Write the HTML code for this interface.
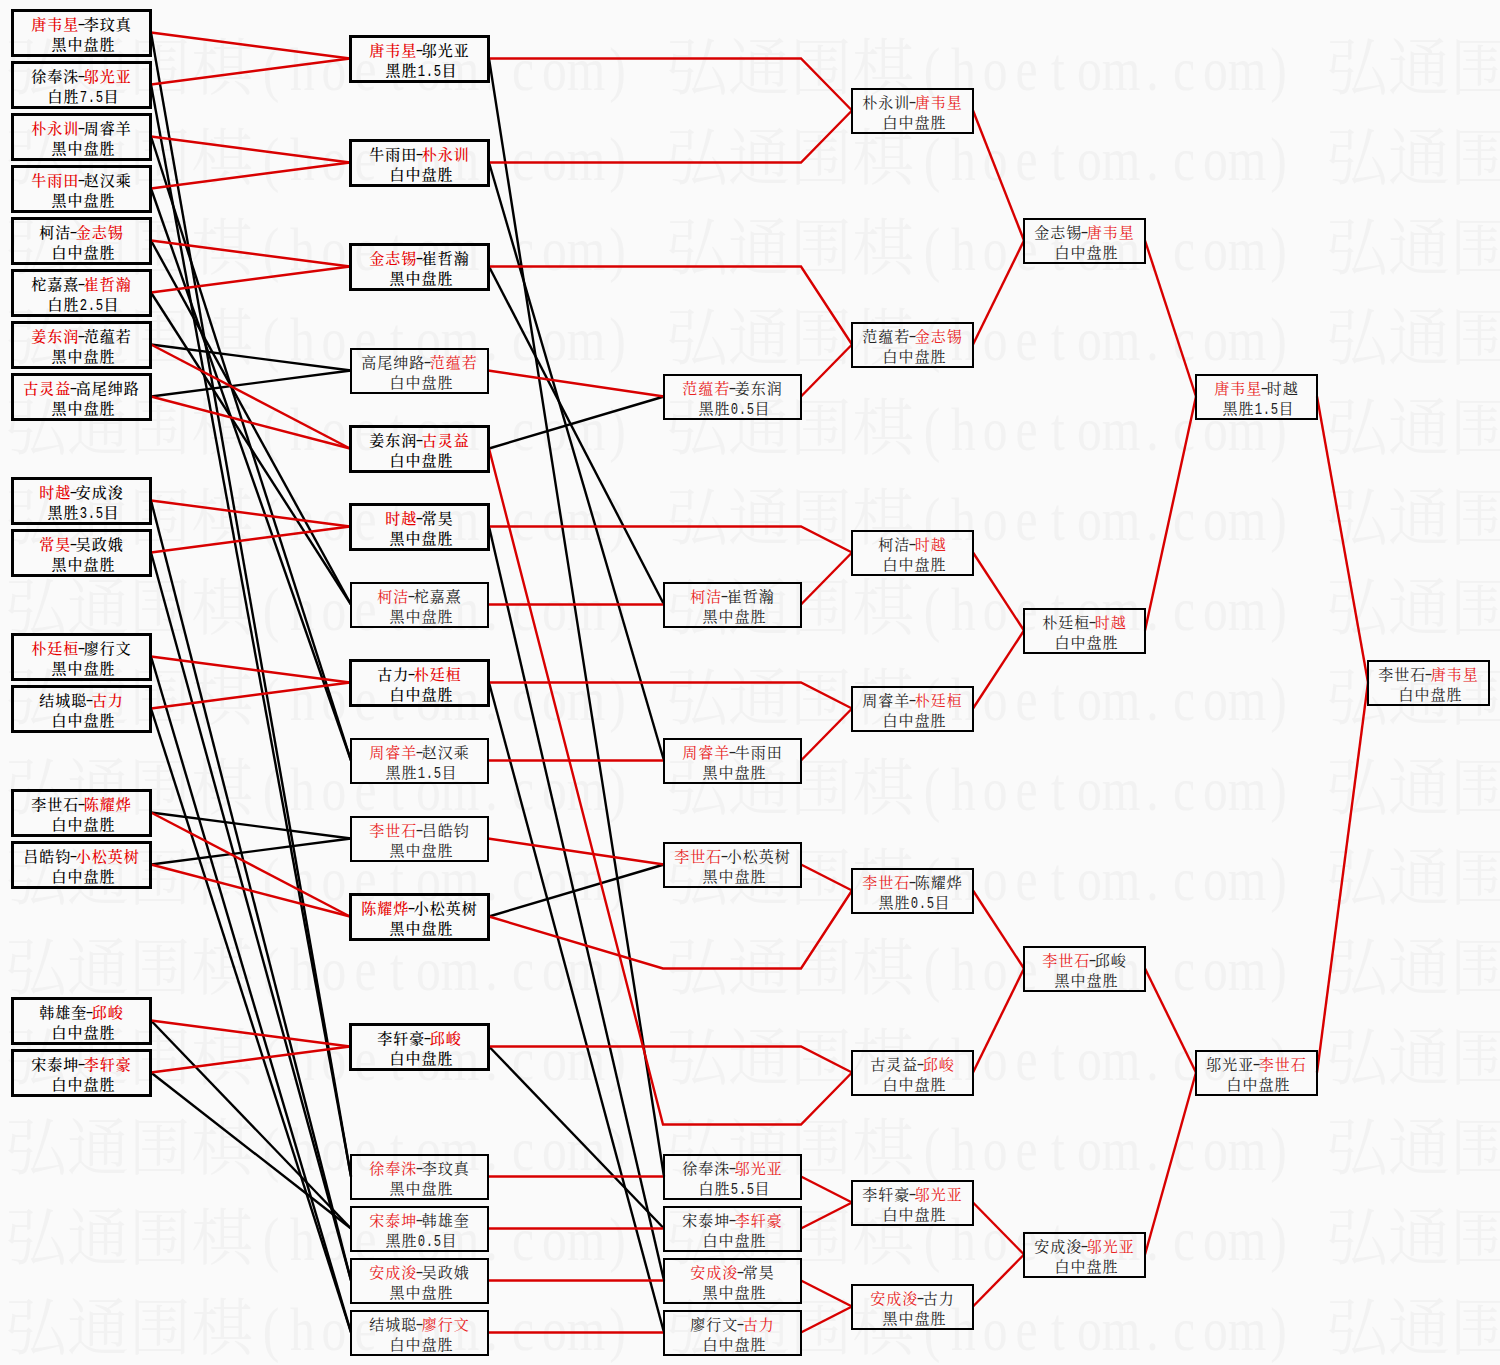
<!DOCTYPE html>
<html><head><meta charset="utf-8"><title>bracket</title>
<style>
html,body{margin:0;padding:0;background:#fafafa;width:1500px;height:1365px;overflow:hidden}
svg{display:block}
.wmc{font-family:'Liberation Serif','Noto Serif CJK SC',serif;font-size:62px;font-weight:300;fill:#f2f2f2}
.wml{font-family:'Liberation Serif',serif;font-size:62px;fill:#f2f2f2;text-anchor:middle}
.tk{font-family:'Liberation Serif','Noto Serif CJK SC',serif;font-size:15px;font-weight:500;fill:#000}
.tn{font-family:'Liberation Serif','Noto Serif CJK SC',serif;font-size:15px;font-weight:400;fill:#222}
.hy{font-family:'Liberation Sans',sans-serif;font-size:16px;font-weight:400;text-anchor:middle}
.dg{font-family:'Liberation Mono',monospace;font-size:17px;text-anchor:middle}
.tkd{fill:#000} .tnd{fill:#222}
.ln path{fill:none;stroke-width:2.4}
.bx rect{fill:none;stroke:#000}
</style></head>
<body><svg width="1500" height="1365" viewBox="0 0 1500 1365">
<g><text x="5 67 129 191" y="90" class="wmc">弘通围棋</text><text transform="scale(0.8,1)" x="338.8 378.1 417.5 456.9 496.2 535.6 575.0 614.4 653.8 693.1 732.5 771.9" y="90" class="wml">(hoetom.com)</text><text x="666 728 790 852" y="90" class="wmc">弘通围棋</text><text transform="scale(0.8,1)" x="1165.0 1204.4 1243.8 1283.1 1322.5 1361.9 1401.2 1440.6 1480.0 1519.4 1558.8 1598.1" y="90" class="wml">(hoetom.com)</text><text x="1326 1388 1450 1512" y="90" class="wmc">弘通围棋</text><text transform="scale(0.8,1)" x="1990.0 2029.4 2068.8 2108.1 2147.5 2186.9 2226.2 2265.6 2305.0 2344.4 2383.8 2423.1" y="90" class="wml">(hoetom.com)</text><text x="5 67 129 191" y="180" class="wmc">弘通围棋</text><text transform="scale(0.8,1)" x="338.8 378.1 417.5 456.9 496.2 535.6 575.0 614.4 653.8 693.1 732.5 771.9" y="180" class="wml">(hoetom.com)</text><text x="666 728 790 852" y="180" class="wmc">弘通围棋</text><text transform="scale(0.8,1)" x="1165.0 1204.4 1243.8 1283.1 1322.5 1361.9 1401.2 1440.6 1480.0 1519.4 1558.8 1598.1" y="180" class="wml">(hoetom.com)</text><text x="1326 1388 1450 1512" y="180" class="wmc">弘通围棋</text><text transform="scale(0.8,1)" x="1990.0 2029.4 2068.8 2108.1 2147.5 2186.9 2226.2 2265.6 2305.0 2344.4 2383.8 2423.1" y="180" class="wml">(hoetom.com)</text><text x="5 67 129 191" y="270" class="wmc">弘通围棋</text><text transform="scale(0.8,1)" x="338.8 378.1 417.5 456.9 496.2 535.6 575.0 614.4 653.8 693.1 732.5 771.9" y="270" class="wml">(hoetom.com)</text><text x="666 728 790 852" y="270" class="wmc">弘通围棋</text><text transform="scale(0.8,1)" x="1165.0 1204.4 1243.8 1283.1 1322.5 1361.9 1401.2 1440.6 1480.0 1519.4 1558.8 1598.1" y="270" class="wml">(hoetom.com)</text><text x="1326 1388 1450 1512" y="270" class="wmc">弘通围棋</text><text transform="scale(0.8,1)" x="1990.0 2029.4 2068.8 2108.1 2147.5 2186.9 2226.2 2265.6 2305.0 2344.4 2383.8 2423.1" y="270" class="wml">(hoetom.com)</text><text x="5 67 129 191" y="360" class="wmc">弘通围棋</text><text transform="scale(0.8,1)" x="338.8 378.1 417.5 456.9 496.2 535.6 575.0 614.4 653.8 693.1 732.5 771.9" y="360" class="wml">(hoetom.com)</text><text x="666 728 790 852" y="360" class="wmc">弘通围棋</text><text transform="scale(0.8,1)" x="1165.0 1204.4 1243.8 1283.1 1322.5 1361.9 1401.2 1440.6 1480.0 1519.4 1558.8 1598.1" y="360" class="wml">(hoetom.com)</text><text x="1326 1388 1450 1512" y="360" class="wmc">弘通围棋</text><text transform="scale(0.8,1)" x="1990.0 2029.4 2068.8 2108.1 2147.5 2186.9 2226.2 2265.6 2305.0 2344.4 2383.8 2423.1" y="360" class="wml">(hoetom.com)</text><text x="5 67 129 191" y="450" class="wmc">弘通围棋</text><text transform="scale(0.8,1)" x="338.8 378.1 417.5 456.9 496.2 535.6 575.0 614.4 653.8 693.1 732.5 771.9" y="450" class="wml">(hoetom.com)</text><text x="666 728 790 852" y="450" class="wmc">弘通围棋</text><text transform="scale(0.8,1)" x="1165.0 1204.4 1243.8 1283.1 1322.5 1361.9 1401.2 1440.6 1480.0 1519.4 1558.8 1598.1" y="450" class="wml">(hoetom.com)</text><text x="1326 1388 1450 1512" y="450" class="wmc">弘通围棋</text><text transform="scale(0.8,1)" x="1990.0 2029.4 2068.8 2108.1 2147.5 2186.9 2226.2 2265.6 2305.0 2344.4 2383.8 2423.1" y="450" class="wml">(hoetom.com)</text><text x="5 67 129 191" y="540" class="wmc">弘通围棋</text><text transform="scale(0.8,1)" x="338.8 378.1 417.5 456.9 496.2 535.6 575.0 614.4 653.8 693.1 732.5 771.9" y="540" class="wml">(hoetom.com)</text><text x="666 728 790 852" y="540" class="wmc">弘通围棋</text><text transform="scale(0.8,1)" x="1165.0 1204.4 1243.8 1283.1 1322.5 1361.9 1401.2 1440.6 1480.0 1519.4 1558.8 1598.1" y="540" class="wml">(hoetom.com)</text><text x="1326 1388 1450 1512" y="540" class="wmc">弘通围棋</text><text transform="scale(0.8,1)" x="1990.0 2029.4 2068.8 2108.1 2147.5 2186.9 2226.2 2265.6 2305.0 2344.4 2383.8 2423.1" y="540" class="wml">(hoetom.com)</text><text x="5 67 129 191" y="630" class="wmc">弘通围棋</text><text transform="scale(0.8,1)" x="338.8 378.1 417.5 456.9 496.2 535.6 575.0 614.4 653.8 693.1 732.5 771.9" y="630" class="wml">(hoetom.com)</text><text x="666 728 790 852" y="630" class="wmc">弘通围棋</text><text transform="scale(0.8,1)" x="1165.0 1204.4 1243.8 1283.1 1322.5 1361.9 1401.2 1440.6 1480.0 1519.4 1558.8 1598.1" y="630" class="wml">(hoetom.com)</text><text x="1326 1388 1450 1512" y="630" class="wmc">弘通围棋</text><text transform="scale(0.8,1)" x="1990.0 2029.4 2068.8 2108.1 2147.5 2186.9 2226.2 2265.6 2305.0 2344.4 2383.8 2423.1" y="630" class="wml">(hoetom.com)</text><text x="5 67 129 191" y="720" class="wmc">弘通围棋</text><text transform="scale(0.8,1)" x="338.8 378.1 417.5 456.9 496.2 535.6 575.0 614.4 653.8 693.1 732.5 771.9" y="720" class="wml">(hoetom.com)</text><text x="666 728 790 852" y="720" class="wmc">弘通围棋</text><text transform="scale(0.8,1)" x="1165.0 1204.4 1243.8 1283.1 1322.5 1361.9 1401.2 1440.6 1480.0 1519.4 1558.8 1598.1" y="720" class="wml">(hoetom.com)</text><text x="1326 1388 1450 1512" y="720" class="wmc">弘通围棋</text><text transform="scale(0.8,1)" x="1990.0 2029.4 2068.8 2108.1 2147.5 2186.9 2226.2 2265.6 2305.0 2344.4 2383.8 2423.1" y="720" class="wml">(hoetom.com)</text><text x="5 67 129 191" y="810" class="wmc">弘通围棋</text><text transform="scale(0.8,1)" x="338.8 378.1 417.5 456.9 496.2 535.6 575.0 614.4 653.8 693.1 732.5 771.9" y="810" class="wml">(hoetom.com)</text><text x="666 728 790 852" y="810" class="wmc">弘通围棋</text><text transform="scale(0.8,1)" x="1165.0 1204.4 1243.8 1283.1 1322.5 1361.9 1401.2 1440.6 1480.0 1519.4 1558.8 1598.1" y="810" class="wml">(hoetom.com)</text><text x="1326 1388 1450 1512" y="810" class="wmc">弘通围棋</text><text transform="scale(0.8,1)" x="1990.0 2029.4 2068.8 2108.1 2147.5 2186.9 2226.2 2265.6 2305.0 2344.4 2383.8 2423.1" y="810" class="wml">(hoetom.com)</text><text x="5 67 129 191" y="900" class="wmc">弘通围棋</text><text transform="scale(0.8,1)" x="338.8 378.1 417.5 456.9 496.2 535.6 575.0 614.4 653.8 693.1 732.5 771.9" y="900" class="wml">(hoetom.com)</text><text x="666 728 790 852" y="900" class="wmc">弘通围棋</text><text transform="scale(0.8,1)" x="1165.0 1204.4 1243.8 1283.1 1322.5 1361.9 1401.2 1440.6 1480.0 1519.4 1558.8 1598.1" y="900" class="wml">(hoetom.com)</text><text x="1326 1388 1450 1512" y="900" class="wmc">弘通围棋</text><text transform="scale(0.8,1)" x="1990.0 2029.4 2068.8 2108.1 2147.5 2186.9 2226.2 2265.6 2305.0 2344.4 2383.8 2423.1" y="900" class="wml">(hoetom.com)</text><text x="5 67 129 191" y="990" class="wmc">弘通围棋</text><text transform="scale(0.8,1)" x="338.8 378.1 417.5 456.9 496.2 535.6 575.0 614.4 653.8 693.1 732.5 771.9" y="990" class="wml">(hoetom.com)</text><text x="666 728 790 852" y="990" class="wmc">弘通围棋</text><text transform="scale(0.8,1)" x="1165.0 1204.4 1243.8 1283.1 1322.5 1361.9 1401.2 1440.6 1480.0 1519.4 1558.8 1598.1" y="990" class="wml">(hoetom.com)</text><text x="1326 1388 1450 1512" y="990" class="wmc">弘通围棋</text><text transform="scale(0.8,1)" x="1990.0 2029.4 2068.8 2108.1 2147.5 2186.9 2226.2 2265.6 2305.0 2344.4 2383.8 2423.1" y="990" class="wml">(hoetom.com)</text><text x="5 67 129 191" y="1080" class="wmc">弘通围棋</text><text transform="scale(0.8,1)" x="338.8 378.1 417.5 456.9 496.2 535.6 575.0 614.4 653.8 693.1 732.5 771.9" y="1080" class="wml">(hoetom.com)</text><text x="666 728 790 852" y="1080" class="wmc">弘通围棋</text><text transform="scale(0.8,1)" x="1165.0 1204.4 1243.8 1283.1 1322.5 1361.9 1401.2 1440.6 1480.0 1519.4 1558.8 1598.1" y="1080" class="wml">(hoetom.com)</text><text x="1326 1388 1450 1512" y="1080" class="wmc">弘通围棋</text><text transform="scale(0.8,1)" x="1990.0 2029.4 2068.8 2108.1 2147.5 2186.9 2226.2 2265.6 2305.0 2344.4 2383.8 2423.1" y="1080" class="wml">(hoetom.com)</text><text x="5 67 129 191" y="1170" class="wmc">弘通围棋</text><text transform="scale(0.8,1)" x="338.8 378.1 417.5 456.9 496.2 535.6 575.0 614.4 653.8 693.1 732.5 771.9" y="1170" class="wml">(hoetom.com)</text><text x="666 728 790 852" y="1170" class="wmc">弘通围棋</text><text transform="scale(0.8,1)" x="1165.0 1204.4 1243.8 1283.1 1322.5 1361.9 1401.2 1440.6 1480.0 1519.4 1558.8 1598.1" y="1170" class="wml">(hoetom.com)</text><text x="1326 1388 1450 1512" y="1170" class="wmc">弘通围棋</text><text transform="scale(0.8,1)" x="1990.0 2029.4 2068.8 2108.1 2147.5 2186.9 2226.2 2265.6 2305.0 2344.4 2383.8 2423.1" y="1170" class="wml">(hoetom.com)</text><text x="5 67 129 191" y="1260" class="wmc">弘通围棋</text><text transform="scale(0.8,1)" x="338.8 378.1 417.5 456.9 496.2 535.6 575.0 614.4 653.8 693.1 732.5 771.9" y="1260" class="wml">(hoetom.com)</text><text x="666 728 790 852" y="1260" class="wmc">弘通围棋</text><text transform="scale(0.8,1)" x="1165.0 1204.4 1243.8 1283.1 1322.5 1361.9 1401.2 1440.6 1480.0 1519.4 1558.8 1598.1" y="1260" class="wml">(hoetom.com)</text><text x="1326 1388 1450 1512" y="1260" class="wmc">弘通围棋</text><text transform="scale(0.8,1)" x="1990.0 2029.4 2068.8 2108.1 2147.5 2186.9 2226.2 2265.6 2305.0 2344.4 2383.8 2423.1" y="1260" class="wml">(hoetom.com)</text><text x="5 67 129 191" y="1350" class="wmc">弘通围棋</text><text transform="scale(0.8,1)" x="338.8 378.1 417.5 456.9 496.2 535.6 575.0 614.4 653.8 693.1 732.5 771.9" y="1350" class="wml">(hoetom.com)</text><text x="666 728 790 852" y="1350" class="wmc">弘通围棋</text><text transform="scale(0.8,1)" x="1165.0 1204.4 1243.8 1283.1 1322.5 1361.9 1401.2 1440.6 1480.0 1519.4 1558.8 1598.1" y="1350" class="wml">(hoetom.com)</text><text x="1326 1388 1450 1512" y="1350" class="wmc">弘通围棋</text><text transform="scale(0.8,1)" x="1990.0 2029.4 2068.8 2108.1 2147.5 2186.9 2226.2 2265.6 2305.0 2344.4 2383.8 2423.1" y="1350" class="wml">(hoetom.com)</text></g>
<g class="ln"><path d="M151,32.5 L351,1176.5" stroke="#000000"/><path d="M151,84.5 L351,1176.5" stroke="#000000"/><path d="M151,136.5 L351,760.5" stroke="#000000"/><path d="M151,188.5 L351,760.5" stroke="#000000"/><path d="M151,240.5 L351,604.5" stroke="#000000"/><path d="M151,292.5 L351,604.5" stroke="#000000"/><path d="M151,344.5 L351,370.5" stroke="#000000"/><path d="M151,396.5 L351,370.5" stroke="#000000"/><path d="M151,500.5 L351,1280.5" stroke="#000000"/><path d="M151,552.5 L351,1280.5" stroke="#000000"/><path d="M151,656.5 L351,1332.5" stroke="#000000"/><path d="M151,708.5 L351,1332.5" stroke="#000000"/><path d="M151,812.5 L351,838.5" stroke="#000000"/><path d="M151,864.5 L351,838.5" stroke="#000000"/><path d="M151,1020.5 L351,1228.5" stroke="#000000"/><path d="M151,1072.5 L351,1228.5" stroke="#000000"/><path d="M151,32.5 L350,58.5" stroke="#d80000"/><path d="M151,84.5 L350,58.5" stroke="#d80000"/><path d="M151,136.5 L350,162.5" stroke="#d80000"/><path d="M151,188.5 L350,162.5" stroke="#d80000"/><path d="M151,240.5 L350,266.5" stroke="#d80000"/><path d="M151,292.5 L350,266.5" stroke="#d80000"/><path d="M151,344.5 L350,448.5" stroke="#d80000"/><path d="M151,396.5 L350,448.5" stroke="#d80000"/><path d="M151,500.5 L350,526.5" stroke="#d80000"/><path d="M151,552.5 L350,526.5" stroke="#d80000"/><path d="M151,656.5 L350,682.5" stroke="#d80000"/><path d="M151,708.5 L350,682.5" stroke="#d80000"/><path d="M151,812.5 L350,916.5" stroke="#d80000"/><path d="M151,864.5 L350,916.5" stroke="#d80000"/><path d="M151,1020.5 L350,1046.5" stroke="#d80000"/><path d="M151,1072.5 L350,1046.5" stroke="#d80000"/><path d="M489,58.5 L664,1176.5" stroke="#000000"/><path d="M489,162.5 L664,760.5" stroke="#000000"/><path d="M489,266.5 L664,604.5" stroke="#000000"/><path d="M489,448.5 L664,396.5" stroke="#000000"/><path d="M489,526.5 L664,1280.5" stroke="#000000"/><path d="M489,682.5 L664,1332.5" stroke="#000000"/><path d="M489,916.5 L664,864.5" stroke="#000000"/><path d="M489,1046.5 L664,1228.5" stroke="#000000"/><path d="M488,370.5 L664,396.5" stroke="#d80000"/><path d="M488,604.5 L664,604.5" stroke="#d80000"/><path d="M488,760.5 L664,760.5" stroke="#d80000"/><path d="M488,838.5 L664,864.5" stroke="#d80000"/><path d="M488,1176.5 L664,1176.5" stroke="#d80000"/><path d="M488,1228.5 L664,1228.5" stroke="#d80000"/><path d="M488,1280.5 L664,1280.5" stroke="#d80000"/><path d="M488,1332.5 L664,1332.5" stroke="#d80000"/><path d="M489,58.5 L663,58.5 L801,58.5 L852,110.5" stroke="#d80000"/><path d="M489,162.5 L663,162.5 L801,162.5 L852,110.5" stroke="#d80000"/><path d="M489,266.5 L663,266.5 L801,266.5 L852,344.5" stroke="#d80000"/><path d="M489,526.5 L663,526.5 L801,526.5 L852,552.5" stroke="#d80000"/><path d="M489,682.5 L663,682.5 L801,682.5 L852,708.5" stroke="#d80000"/><path d="M489,916.5 L663,968.5 L801,968.5 L852,890.5" stroke="#d80000"/><path d="M489,1046.5 L663,1046.5 L801,1046.5 L852,1072.5" stroke="#d80000"/><path d="M489,448.5 L663,1124.5 L801,1124.5 L852,1072.5" stroke="#d80000"/><path d="M801,396.5 L852,344.5" stroke="#d80000"/><path d="M801,604.5 L852,552.5" stroke="#d80000"/><path d="M801,760.5 L852,708.5" stroke="#d80000"/><path d="M801,864.5 L852,890.5" stroke="#d80000"/><path d="M801,1176.5 L852,1202.5" stroke="#d80000"/><path d="M801,1228.5 L852,1202.5" stroke="#d80000"/><path d="M801,1280.5 L852,1306.5" stroke="#d80000"/><path d="M801,1332.5 L852,1306.5" stroke="#d80000"/><path d="M973,110.5 L1024,240.5" stroke="#d80000"/><path d="M973,344.5 L1024,240.5" stroke="#d80000"/><path d="M973,552.5 L1024,630.5" stroke="#d80000"/><path d="M973,708.5 L1024,630.5" stroke="#d80000"/><path d="M973,890.5 L1024,968.5" stroke="#d80000"/><path d="M973,1072.5 L1024,968.5" stroke="#d80000"/><path d="M973,1202.5 L1024,1254.5" stroke="#d80000"/><path d="M973,1306.5 L1024,1254.5" stroke="#d80000"/><path d="M1145,240.5 L1196,396.5" stroke="#d80000"/><path d="M1145,630.5 L1196,396.5" stroke="#d80000"/><path d="M1145,968.5 L1196,1072.5" stroke="#d80000"/><path d="M1145,1254.5 L1196,1072.5" stroke="#d80000"/><path d="M1317,396.5 L1368,682.5" stroke="#d80000"/><path d="M1317,1072.5 L1368,682.5" stroke="#d80000"/></g>
<g class="bx"><rect x="12.5" y="10.5" width="138" height="45" stroke-width="3"/><rect x="12.5" y="62.5" width="138" height="45" stroke-width="3"/><rect x="12.5" y="114.5" width="138" height="45" stroke-width="3"/><rect x="12.5" y="166.5" width="138" height="45" stroke-width="3"/><rect x="12.5" y="218.5" width="138" height="45" stroke-width="3"/><rect x="12.5" y="270.5" width="138" height="45" stroke-width="3"/><rect x="12.5" y="322.5" width="138" height="45" stroke-width="3"/><rect x="12.5" y="374.5" width="138" height="45" stroke-width="3"/><rect x="12.5" y="478.5" width="138" height="45" stroke-width="3"/><rect x="12.5" y="530.5" width="138" height="45" stroke-width="3"/><rect x="12.5" y="634.5" width="138" height="45" stroke-width="3"/><rect x="12.5" y="686.5" width="138" height="45" stroke-width="3"/><rect x="12.5" y="790.5" width="138" height="45" stroke-width="3"/><rect x="12.5" y="842.5" width="138" height="45" stroke-width="3"/><rect x="12.5" y="998.5" width="138" height="45" stroke-width="3"/><rect x="12.5" y="1050.5" width="138" height="45" stroke-width="3"/><rect x="350.5" y="36.5" width="138" height="45" stroke-width="3"/><rect x="350.5" y="140.5" width="138" height="45" stroke-width="3"/><rect x="350.5" y="244.5" width="138" height="45" stroke-width="3"/><rect x="351.0" y="349.0" width="137" height="44" stroke-width="2"/><rect x="350.5" y="426.5" width="138" height="45" stroke-width="3"/><rect x="350.5" y="504.5" width="138" height="45" stroke-width="3"/><rect x="351.0" y="583.0" width="137" height="44" stroke-width="2"/><rect x="350.5" y="660.5" width="138" height="45" stroke-width="3"/><rect x="351.0" y="739.0" width="137" height="44" stroke-width="2"/><rect x="351.0" y="817.0" width="137" height="44" stroke-width="2"/><rect x="350.5" y="894.5" width="138" height="45" stroke-width="3"/><rect x="350.5" y="1024.5" width="138" height="45" stroke-width="3"/><rect x="351.0" y="1155.0" width="137" height="44" stroke-width="2"/><rect x="351.0" y="1207.0" width="137" height="44" stroke-width="2"/><rect x="351.0" y="1259.0" width="137" height="44" stroke-width="2"/><rect x="351.0" y="1311.0" width="137" height="44" stroke-width="2"/><rect x="664.0" y="375.0" width="137" height="44" stroke-width="2"/><rect x="664.0" y="583.0" width="137" height="44" stroke-width="2"/><rect x="664.0" y="739.0" width="137" height="44" stroke-width="2"/><rect x="664.0" y="843.0" width="137" height="44" stroke-width="2"/><rect x="664.0" y="1155.0" width="137" height="44" stroke-width="2"/><rect x="664.0" y="1207.0" width="137" height="44" stroke-width="2"/><rect x="664.0" y="1259.0" width="137" height="44" stroke-width="2"/><rect x="664.0" y="1311.0" width="137" height="44" stroke-width="2"/><rect x="852.0" y="89.0" width="121" height="44" stroke-width="2"/><rect x="852.0" y="323.0" width="121" height="44" stroke-width="2"/><rect x="852.0" y="531.0" width="121" height="44" stroke-width="2"/><rect x="852.0" y="687.0" width="121" height="44" stroke-width="2"/><rect x="852.0" y="869.0" width="121" height="44" stroke-width="2"/><rect x="852.0" y="1051.0" width="121" height="44" stroke-width="2"/><rect x="852.0" y="1181.0" width="121" height="44" stroke-width="2"/><rect x="852.0" y="1285.0" width="121" height="44" stroke-width="2"/><rect x="1024.0" y="219.0" width="121" height="44" stroke-width="2"/><rect x="1024.0" y="609.0" width="121" height="44" stroke-width="2"/><rect x="1024.0" y="947.0" width="121" height="44" stroke-width="2"/><rect x="1024.0" y="1233.0" width="121" height="44" stroke-width="2"/><rect x="1196.0" y="375.0" width="121" height="44" stroke-width="2"/><rect x="1196.0" y="1051.0" width="121" height="44" stroke-width="2"/><rect x="1368.0" y="661.0" width="121" height="44" stroke-width="2"/></g>
<g><text y="30.3" class="tk"><tspan x="31.2 47.2 63.2" fill="#e60000">唐韦星</tspan><tspan x="83.8 99.8 115.8">李玟真</tspan></text><text transform="scale(1.5,1)" x="54.33" y="28.8" class="hy tkd">-</text><text y="50.3" class="tk"><tspan x="51.5 67.5 83.5 99.5">黑中盘胜</tspan></text><text y="82.3" class="tk"><tspan x="31.2 47.2 63.2">徐奉洙</tspan><tspan x="83.8 99.8 115.8" fill="#e60000">邬光亚</tspan></text><text transform="scale(1.5,1)" x="54.33" y="80.8" class="hy tkd">-</text><text y="102.3" class="tk"><tspan x="47.5 63.5">白胜</tspan><tspan x="103.5">目</tspan></text><text transform="scale(0.72,1)" x="115.97 127.08 138.19" y="102.3" class="dg tkd">7.5</text><text y="134.3" class="tk"><tspan x="31.2 47.2 63.2" fill="#e60000">朴永训</tspan><tspan x="83.8 99.8 115.8">周睿羊</tspan></text><text transform="scale(1.5,1)" x="54.33" y="132.8" class="hy tkd">-</text><text y="154.3" class="tk"><tspan x="51.5 67.5 83.5 99.5">黑中盘胜</tspan></text><text y="186.3" class="tk"><tspan x="31.2 47.2 63.2" fill="#e60000">牛雨田</tspan><tspan x="83.8 99.8 115.8">赵汉乘</tspan></text><text transform="scale(1.5,1)" x="54.33" y="184.8" class="hy tkd">-</text><text y="206.3" class="tk"><tspan x="51.5 67.5 83.5 99.5">黑中盘胜</tspan></text><text y="238.3" class="tk"><tspan x="39.2 55.2">柯洁</tspan><tspan x="75.8 91.8 107.8" fill="#e60000">金志锡</tspan></text><text transform="scale(1.5,1)" x="49.00" y="236.8" class="hy tkd">-</text><text y="258.3" class="tk"><tspan x="51.5 67.5 83.5 99.5">白中盘胜</tspan></text><text y="290.3" class="tk"><tspan x="31.2 47.2 63.2">柁嘉熹</tspan><tspan x="83.8 99.8 115.8" fill="#e60000">崔哲瀚</tspan></text><text transform="scale(1.5,1)" x="54.33" y="288.8" class="hy tkd">-</text><text y="310.3" class="tk"><tspan x="47.5 63.5">白胜</tspan><tspan x="103.5">目</tspan></text><text transform="scale(0.72,1)" x="115.97 127.08 138.19" y="310.3" class="dg tkd">2.5</text><text y="342.3" class="tk"><tspan x="31.2 47.2 63.2" fill="#e60000">姜东润</tspan><tspan x="83.8 99.8 115.8">范蕴若</tspan></text><text transform="scale(1.5,1)" x="54.33" y="340.8" class="hy tkd">-</text><text y="362.3" class="tk"><tspan x="51.5 67.5 83.5 99.5">黑中盘胜</tspan></text><text y="394.3" class="tk"><tspan x="23.2 39.2 55.2" fill="#e60000">古灵益</tspan><tspan x="75.8 91.8 107.8 123.8">高尾绅路</tspan></text><text transform="scale(1.5,1)" x="49.00" y="392.8" class="hy tkd">-</text><text y="414.3" class="tk"><tspan x="51.5 67.5 83.5 99.5">黑中盘胜</tspan></text><text y="498.3" class="tk"><tspan x="39.2 55.2" fill="#e60000">时越</tspan><tspan x="75.8 91.8 107.8">安成浚</tspan></text><text transform="scale(1.5,1)" x="49.00" y="496.8" class="hy tkd">-</text><text y="518.3" class="tk"><tspan x="47.5 63.5">黑胜</tspan><tspan x="103.5">目</tspan></text><text transform="scale(0.72,1)" x="115.97 127.08 138.19" y="518.3" class="dg tkd">3.5</text><text y="550.3" class="tk"><tspan x="39.2 55.2" fill="#e60000">常昊</tspan><tspan x="75.8 91.8 107.8">吴政娥</tspan></text><text transform="scale(1.5,1)" x="49.00" y="548.8" class="hy tkd">-</text><text y="570.3" class="tk"><tspan x="51.5 67.5 83.5 99.5">黑中盘胜</tspan></text><text y="654.3" class="tk"><tspan x="31.2 47.2 63.2" fill="#e60000">朴廷桓</tspan><tspan x="83.8 99.8 115.8">廖行文</tspan></text><text transform="scale(1.5,1)" x="54.33" y="652.8" class="hy tkd">-</text><text y="674.3" class="tk"><tspan x="51.5 67.5 83.5 99.5">黑中盘胜</tspan></text><text y="706.3" class="tk"><tspan x="39.2 55.2 71.2">结城聪</tspan><tspan x="91.8 107.8" fill="#e60000">古力</tspan></text><text transform="scale(1.5,1)" x="59.67" y="704.8" class="hy tkd">-</text><text y="726.3" class="tk"><tspan x="51.5 67.5 83.5 99.5">白中盘胜</tspan></text><text y="810.3" class="tk"><tspan x="31.2 47.2 63.2">李世石</tspan><tspan x="83.8 99.8 115.8" fill="#e60000">陈耀烨</tspan></text><text transform="scale(1.5,1)" x="54.33" y="808.8" class="hy tkd">-</text><text y="830.3" class="tk"><tspan x="51.5 67.5 83.5 99.5">白中盘胜</tspan></text><text y="862.3" class="tk"><tspan x="23.2 39.2 55.2">吕皓钧</tspan><tspan x="75.8 91.8 107.8 123.8" fill="#e60000">小松英树</tspan></text><text transform="scale(1.5,1)" x="49.00" y="860.8" class="hy tkd">-</text><text y="882.3" class="tk"><tspan x="51.5 67.5 83.5 99.5">白中盘胜</tspan></text><text y="1018.3" class="tk"><tspan x="39.2 55.2 71.2">韩雄奎</tspan><tspan x="91.8 107.8" fill="#e60000">邱峻</tspan></text><text transform="scale(1.5,1)" x="59.67" y="1016.8" class="hy tkd">-</text><text y="1038.3" class="tk"><tspan x="51.5 67.5 83.5 99.5">白中盘胜</tspan></text><text y="1070.3" class="tk"><tspan x="31.2 47.2 63.2">宋泰坤</tspan><tspan x="83.8 99.8 115.8" fill="#e60000">李轩豪</tspan></text><text transform="scale(1.5,1)" x="54.33" y="1068.8" class="hy tkd">-</text><text y="1090.3" class="tk"><tspan x="51.5 67.5 83.5 99.5">白中盘胜</tspan></text><text y="56.3" class="tk"><tspan x="369.2 385.2 401.2" fill="#e60000">唐韦星</tspan><tspan x="421.8 437.8 453.8">邬光亚</tspan></text><text transform="scale(1.5,1)" x="279.67" y="54.8" class="hy tkd">-</text><text y="76.3" class="tk"><tspan x="385.5 401.5">黑胜</tspan><tspan x="441.5">目</tspan></text><text transform="scale(0.72,1)" x="585.42 596.53 607.64" y="76.3" class="dg tkd">1.5</text><text y="160.3" class="tk"><tspan x="369.2 385.2 401.2">牛雨田</tspan><tspan x="421.8 437.8 453.8" fill="#e60000">朴永训</tspan></text><text transform="scale(1.5,1)" x="279.67" y="158.8" class="hy tkd">-</text><text y="180.3" class="tk"><tspan x="389.5 405.5 421.5 437.5">白中盘胜</tspan></text><text y="264.3" class="tk"><tspan x="369.2 385.2 401.2" fill="#e60000">金志锡</tspan><tspan x="421.8 437.8 453.8">崔哲瀚</tspan></text><text transform="scale(1.5,1)" x="279.67" y="262.8" class="hy tkd">-</text><text y="284.3" class="tk"><tspan x="389.5 405.5 421.5 437.5">黑中盘胜</tspan></text><text y="368.3" class="tn"><tspan x="361.2 377.2 393.2 409.2">高尾绅路</tspan><tspan x="429.8 445.8 461.8" fill="#e82222">范蕴若</tspan></text><text transform="scale(1.5,1)" x="285.00" y="366.8" class="hy tnd">-</text><text y="388.3" class="tn"><tspan x="389.5 405.5 421.5 437.5">白中盘胜</tspan></text><text y="446.3" class="tk"><tspan x="369.2 385.2 401.2">姜东润</tspan><tspan x="421.8 437.8 453.8" fill="#e60000">古灵益</tspan></text><text transform="scale(1.5,1)" x="279.67" y="444.8" class="hy tkd">-</text><text y="466.3" class="tk"><tspan x="389.5 405.5 421.5 437.5">白中盘胜</tspan></text><text y="524.3" class="tk"><tspan x="385.2 401.2" fill="#e60000">时越</tspan><tspan x="421.8 437.8">常昊</tspan></text><text transform="scale(1.5,1)" x="279.67" y="522.8" class="hy tkd">-</text><text y="544.3" class="tk"><tspan x="389.5 405.5 421.5 437.5">黑中盘胜</tspan></text><text y="602.3" class="tn"><tspan x="377.2 393.2" fill="#e82222">柯洁</tspan><tspan x="413.8 429.8 445.8">柁嘉熹</tspan></text><text transform="scale(1.5,1)" x="274.33" y="600.8" class="hy tnd">-</text><text y="622.3" class="tn"><tspan x="389.5 405.5 421.5 437.5">黑中盘胜</tspan></text><text y="680.3" class="tk"><tspan x="377.2 393.2">古力</tspan><tspan x="413.8 429.8 445.8" fill="#e60000">朴廷桓</tspan></text><text transform="scale(1.5,1)" x="274.33" y="678.8" class="hy tkd">-</text><text y="700.3" class="tk"><tspan x="389.5 405.5 421.5 437.5">白中盘胜</tspan></text><text y="758.3" class="tn"><tspan x="369.2 385.2 401.2" fill="#e82222">周睿羊</tspan><tspan x="421.8 437.8 453.8">赵汉乘</tspan></text><text transform="scale(1.5,1)" x="279.67" y="756.8" class="hy tnd">-</text><text y="778.3" class="tn"><tspan x="385.5 401.5">黑胜</tspan><tspan x="441.5">目</tspan></text><text transform="scale(0.72,1)" x="585.42 596.53 607.64" y="778.3" class="dg tnd">1.5</text><text y="836.3" class="tn"><tspan x="369.2 385.2 401.2" fill="#e82222">李世石</tspan><tspan x="421.8 437.8 453.8">吕皓钧</tspan></text><text transform="scale(1.5,1)" x="279.67" y="834.8" class="hy tnd">-</text><text y="856.3" class="tn"><tspan x="389.5 405.5 421.5 437.5">黑中盘胜</tspan></text><text y="914.3" class="tk"><tspan x="361.2 377.2 393.2" fill="#e60000">陈耀烨</tspan><tspan x="413.8 429.8 445.8 461.8">小松英树</tspan></text><text transform="scale(1.5,1)" x="274.33" y="912.8" class="hy tkd">-</text><text y="934.3" class="tk"><tspan x="389.5 405.5 421.5 437.5">黑中盘胜</tspan></text><text y="1044.3" class="tk"><tspan x="377.2 393.2 409.2">李轩豪</tspan><tspan x="429.8 445.8" fill="#e60000">邱峻</tspan></text><text transform="scale(1.5,1)" x="285.00" y="1042.8" class="hy tkd">-</text><text y="1064.3" class="tk"><tspan x="389.5 405.5 421.5 437.5">白中盘胜</tspan></text><text y="1174.3" class="tn"><tspan x="369.2 385.2 401.2" fill="#e82222">徐奉洙</tspan><tspan x="421.8 437.8 453.8">李玟真</tspan></text><text transform="scale(1.5,1)" x="279.67" y="1172.8" class="hy tnd">-</text><text y="1194.3" class="tn"><tspan x="389.5 405.5 421.5 437.5">黑中盘胜</tspan></text><text y="1226.3" class="tn"><tspan x="369.2 385.2 401.2" fill="#e82222">宋泰坤</tspan><tspan x="421.8 437.8 453.8">韩雄奎</tspan></text><text transform="scale(1.5,1)" x="279.67" y="1224.8" class="hy tnd">-</text><text y="1246.3" class="tn"><tspan x="385.5 401.5">黑胜</tspan><tspan x="441.5">目</tspan></text><text transform="scale(0.72,1)" x="585.42 596.53 607.64" y="1246.3" class="dg tnd">0.5</text><text y="1278.3" class="tn"><tspan x="369.2 385.2 401.2" fill="#e82222">安成浚</tspan><tspan x="421.8 437.8 453.8">吴政娥</tspan></text><text transform="scale(1.5,1)" x="279.67" y="1276.8" class="hy tnd">-</text><text y="1298.3" class="tn"><tspan x="389.5 405.5 421.5 437.5">黑中盘胜</tspan></text><text y="1330.3" class="tn"><tspan x="369.2 385.2 401.2">结城聪</tspan><tspan x="421.8 437.8 453.8" fill="#e82222">廖行文</tspan></text><text transform="scale(1.5,1)" x="279.67" y="1328.8" class="hy tnd">-</text><text y="1350.3" class="tn"><tspan x="389.5 405.5 421.5 437.5">白中盘胜</tspan></text><text y="394.3" class="tn"><tspan x="682.2 698.2 714.2" fill="#e82222">范蕴若</tspan><tspan x="734.8 750.8 766.8">姜东润</tspan></text><text transform="scale(1.5,1)" x="488.33" y="392.8" class="hy tnd">-</text><text y="414.3" class="tn"><tspan x="698.5 714.5">黑胜</tspan><tspan x="754.5">目</tspan></text><text transform="scale(0.72,1)" x="1020.14 1031.25 1042.36" y="414.3" class="dg tnd">0.5</text><text y="602.3" class="tn"><tspan x="690.2 706.2" fill="#e82222">柯洁</tspan><tspan x="726.8 742.8 758.8">崔哲瀚</tspan></text><text transform="scale(1.5,1)" x="483.00" y="600.8" class="hy tnd">-</text><text y="622.3" class="tn"><tspan x="702.5 718.5 734.5 750.5">黑中盘胜</tspan></text><text y="758.3" class="tn"><tspan x="682.2 698.2 714.2" fill="#e82222">周睿羊</tspan><tspan x="734.8 750.8 766.8">牛雨田</tspan></text><text transform="scale(1.5,1)" x="488.33" y="756.8" class="hy tnd">-</text><text y="778.3" class="tn"><tspan x="702.5 718.5 734.5 750.5">黑中盘胜</tspan></text><text y="862.3" class="tn"><tspan x="674.2 690.2 706.2" fill="#e82222">李世石</tspan><tspan x="726.8 742.8 758.8 774.8">小松英树</tspan></text><text transform="scale(1.5,1)" x="483.00" y="860.8" class="hy tnd">-</text><text y="882.3" class="tn"><tspan x="702.5 718.5 734.5 750.5">黑中盘胜</tspan></text><text y="1174.3" class="tn"><tspan x="682.2 698.2 714.2">徐奉洙</tspan><tspan x="734.8 750.8 766.8" fill="#e82222">邬光亚</tspan></text><text transform="scale(1.5,1)" x="488.33" y="1172.8" class="hy tnd">-</text><text y="1194.3" class="tn"><tspan x="698.5 714.5">白胜</tspan><tspan x="754.5">目</tspan></text><text transform="scale(0.72,1)" x="1020.14 1031.25 1042.36" y="1194.3" class="dg tnd">5.5</text><text y="1226.3" class="tn"><tspan x="682.2 698.2 714.2">宋泰坤</tspan><tspan x="734.8 750.8 766.8" fill="#e82222">李轩豪</tspan></text><text transform="scale(1.5,1)" x="488.33" y="1224.8" class="hy tnd">-</text><text y="1246.3" class="tn"><tspan x="702.5 718.5 734.5 750.5">白中盘胜</tspan></text><text y="1278.3" class="tn"><tspan x="690.2 706.2 722.2" fill="#e82222">安成浚</tspan><tspan x="742.8 758.8">常昊</tspan></text><text transform="scale(1.5,1)" x="493.67" y="1276.8" class="hy tnd">-</text><text y="1298.3" class="tn"><tspan x="702.5 718.5 734.5 750.5">黑中盘胜</tspan></text><text y="1330.3" class="tn"><tspan x="690.2 706.2 722.2">廖行文</tspan><tspan x="742.8 758.8" fill="#e82222">古力</tspan></text><text transform="scale(1.5,1)" x="493.67" y="1328.8" class="hy tnd">-</text><text y="1350.3" class="tn"><tspan x="702.5 718.5 734.5 750.5">白中盘胜</tspan></text><text y="108.3" class="tn"><tspan x="862.2 878.2 894.2">朴永训</tspan><tspan x="914.8 930.8 946.8" fill="#e82222">唐韦星</tspan></text><text transform="scale(1.5,1)" x="608.33" y="106.8" class="hy tnd">-</text><text y="128.3" class="tn"><tspan x="882.5 898.5 914.5 930.5">白中盘胜</tspan></text><text y="342.3" class="tn"><tspan x="862.2 878.2 894.2">范蕴若</tspan><tspan x="914.8 930.8 946.8" fill="#e82222">金志锡</tspan></text><text transform="scale(1.5,1)" x="608.33" y="340.8" class="hy tnd">-</text><text y="362.3" class="tn"><tspan x="882.5 898.5 914.5 930.5">白中盘胜</tspan></text><text y="550.3" class="tn"><tspan x="878.2 894.2">柯洁</tspan><tspan x="914.8 930.8" fill="#e82222">时越</tspan></text><text transform="scale(1.5,1)" x="608.33" y="548.8" class="hy tnd">-</text><text y="570.3" class="tn"><tspan x="882.5 898.5 914.5 930.5">白中盘胜</tspan></text><text y="706.3" class="tn"><tspan x="862.2 878.2 894.2">周睿羊</tspan><tspan x="914.8 930.8 946.8" fill="#e82222">朴廷桓</tspan></text><text transform="scale(1.5,1)" x="608.33" y="704.8" class="hy tnd">-</text><text y="726.3" class="tn"><tspan x="882.5 898.5 914.5 930.5">白中盘胜</tspan></text><text y="888.3" class="tn"><tspan x="862.2 878.2 894.2" fill="#e82222">李世石</tspan><tspan x="914.8 930.8 946.8">陈耀烨</tspan></text><text transform="scale(1.5,1)" x="608.33" y="886.8" class="hy tnd">-</text><text y="908.3" class="tn"><tspan x="878.5 894.5">黑胜</tspan><tspan x="934.5">目</tspan></text><text transform="scale(0.72,1)" x="1270.14 1281.25 1292.36" y="908.3" class="dg tnd">0.5</text><text y="1070.3" class="tn"><tspan x="870.2 886.2 902.2">古灵益</tspan><tspan x="922.8 938.8" fill="#e82222">邱峻</tspan></text><text transform="scale(1.5,1)" x="613.67" y="1068.8" class="hy tnd">-</text><text y="1090.3" class="tn"><tspan x="882.5 898.5 914.5 930.5">白中盘胜</tspan></text><text y="1200.3" class="tn"><tspan x="862.2 878.2 894.2">李轩豪</tspan><tspan x="914.8 930.8 946.8" fill="#e82222">邬光亚</tspan></text><text transform="scale(1.5,1)" x="608.33" y="1198.8" class="hy tnd">-</text><text y="1220.3" class="tn"><tspan x="882.5 898.5 914.5 930.5">白中盘胜</tspan></text><text y="1304.3" class="tn"><tspan x="870.2 886.2 902.2" fill="#e82222">安成浚</tspan><tspan x="922.8 938.8">古力</tspan></text><text transform="scale(1.5,1)" x="613.67" y="1302.8" class="hy tnd">-</text><text y="1324.3" class="tn"><tspan x="882.5 898.5 914.5 930.5">黑中盘胜</tspan></text><text y="238.3" class="tn"><tspan x="1034.2 1050.2 1066.2">金志锡</tspan><tspan x="1086.8 1102.8 1118.8" fill="#e82222">唐韦星</tspan></text><text transform="scale(1.5,1)" x="723.00" y="236.8" class="hy tnd">-</text><text y="258.3" class="tn"><tspan x="1054.5 1070.5 1086.5 1102.5">白中盘胜</tspan></text><text y="628.3" class="tn"><tspan x="1042.2 1058.2 1074.2">朴廷桓</tspan><tspan x="1094.8 1110.8" fill="#e82222">时越</tspan></text><text transform="scale(1.5,1)" x="728.33" y="626.8" class="hy tnd">-</text><text y="648.3" class="tn"><tspan x="1054.5 1070.5 1086.5 1102.5">白中盘胜</tspan></text><text y="966.3" class="tn"><tspan x="1042.2 1058.2 1074.2" fill="#e82222">李世石</tspan><tspan x="1094.8 1110.8">邱峻</tspan></text><text transform="scale(1.5,1)" x="728.33" y="964.8" class="hy tnd">-</text><text y="986.3" class="tn"><tspan x="1054.5 1070.5 1086.5 1102.5">黑中盘胜</tspan></text><text y="1252.3" class="tn"><tspan x="1034.2 1050.2 1066.2">安成浚</tspan><tspan x="1086.8 1102.8 1118.8" fill="#e82222">邬光亚</tspan></text><text transform="scale(1.5,1)" x="723.00" y="1250.8" class="hy tnd">-</text><text y="1272.3" class="tn"><tspan x="1054.5 1070.5 1086.5 1102.5">白中盘胜</tspan></text><text y="394.3" class="tn"><tspan x="1214.2 1230.2 1246.2" fill="#e82222">唐韦星</tspan><tspan x="1266.8 1282.8">时越</tspan></text><text transform="scale(1.5,1)" x="843.00" y="392.8" class="hy tnd">-</text><text y="414.3" class="tn"><tspan x="1222.5 1238.5">黑胜</tspan><tspan x="1278.5">目</tspan></text><text transform="scale(0.72,1)" x="1747.92 1759.03 1770.14" y="414.3" class="dg tnd">1.5</text><text y="1070.3" class="tn"><tspan x="1206.2 1222.2 1238.2">邬光亚</tspan><tspan x="1258.8 1274.8 1290.8" fill="#e82222">李世石</tspan></text><text transform="scale(1.5,1)" x="837.67" y="1068.8" class="hy tnd">-</text><text y="1090.3" class="tn"><tspan x="1226.5 1242.5 1258.5 1274.5">白中盘胜</tspan></text><text y="680.3" class="tn"><tspan x="1378.2 1394.2 1410.2">李世石</tspan><tspan x="1430.8 1446.8 1462.8" fill="#e82222">唐韦星</tspan></text><text transform="scale(1.5,1)" x="952.33" y="678.8" class="hy tnd">-</text><text y="700.3" class="tn"><tspan x="1398.5 1414.5 1430.5 1446.5">白中盘胜</tspan></text></g>
</svg></body></html>
